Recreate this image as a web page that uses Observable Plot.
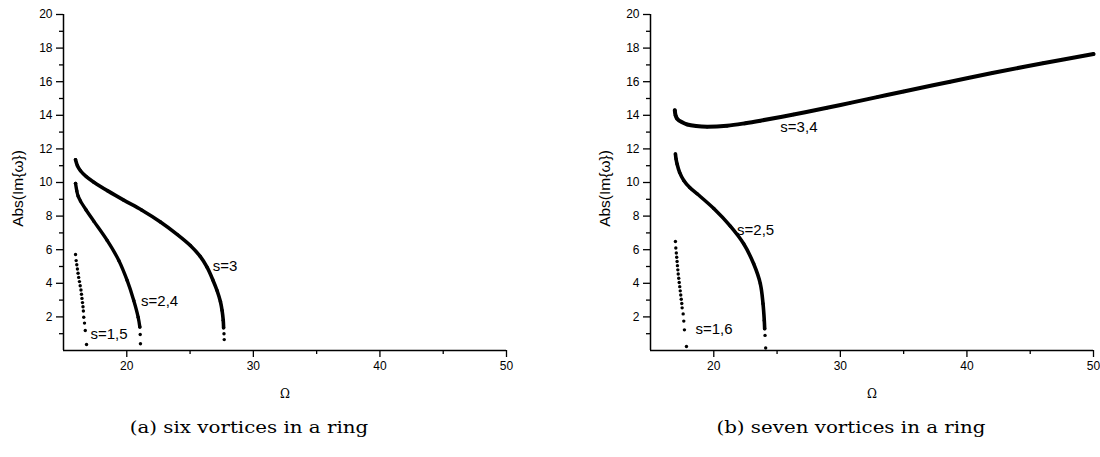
<!DOCTYPE html>
<html><head><meta charset="utf-8">
<script src="https://cdn.jsdelivr.net/npm/d3@7"></script>
<script src="https://cdn.jsdelivr.net/npm/@observablehq/plot@0.6"></script>
<style>
body{margin:0;background:#fff;}
#wrap{position:relative;width:1100px;height:457px;overflow:hidden;}
.panel{position:absolute;top:0;}
.cap{position:absolute;top:418px;width:400px;font-family:"DejaVu Serif","Liberation Serif",serif;font-size:16.5px;text-align:center;color:#000;transform:scaleX(1.2);transform-origin:center;}
</style></head>
<body>
<div id="wrap">
  <div class="panel" id="pa" style="left:0"></div>
  <div class="panel" id="pb" style="left:550px"></div>
  <div class="cap" style="left:49px">(a) six vortices in a ring</div>
  <div class="cap" style="left:651px">(b) seven vortices in a ring</div>
</div>
<script>
// ---- tick values ----
const yMajor = [2,4,6,8,10,12,14,16,18,20];
const yMinor = [1,3,5,7,9,11,13,15,17,19];
const xMajor = [20,30,40,50];
const xMinor = [25,35,45];

// ---- panel (a): six vortices ----
const a15_omega = [15.95,16.0,16.05,16.1,16.15,16.2,16.26,16.32,16.38,16.42,16.46,16.5,16.54,16.57,16.6,16.66,16.72,16.82];
const a15_im    = [5.71,5.35,5.1,4.85,4.6,4.35,4.1,3.85,3.6,3.35,3.1,2.85,2.6,2.35,1.98,1.63,1.19,0.36];
const a24_omega = [15.95,16.05,16.15,16.34,16.8,17.39,18.45,19.37,20.03,20.55,20.9,21.03,21.06,21.08];
const a24_im    = [9.95,9.5,9.2,8.9,8.35,7.7,6.55,5.36,4.17,2.98,1.98,1.4,0.95,0.4];
const a3_omega  = [15.95,16.1,16.34,16.8,17.4,18.5,19.76,21.2,22.66,24.0,25.02,25.8,26.34,26.8,27.13,27.4,27.53,27.62,27.65,27.68,27.7];
const a3_im     = [11.35,11.0,10.7,10.35,10.02,9.5,8.95,8.35,7.65,6.9,6.25,5.6,4.96,4.2,3.57,2.9,2.38,1.8,1.35,1.0,0.65];

// ---- panel (b): seven vortices ----
const b16_omega = [16.97,17.0,17.04,17.07,17.1,17.13,17.16,17.19,17.23,17.27,17.31,17.35,17.39,17.43,17.47,17.5,17.58,17.63,17.68,17.84];
const b16_im    = [6.49,6.1,5.8,5.55,5.3,5.05,4.8,4.55,4.3,4.05,3.8,3.55,3.3,3.05,2.8,2.54,2.18,1.75,1.23,0.24];
const b25_omega = [16.97,17.02,17.1,17.3,17.63,18.1,18.68,20.0,21.31,22.36,23.15,23.68,23.89,23.99,24.02,24.05,24.1];
const b25_im    = [11.7,11.4,11.1,10.6,10.12,9.7,9.33,8.45,7.4,6.35,5.16,3.97,2.78,1.79,1.3,0.9,0.15];
const b34_omega = [16.92,16.98,17.1,17.5,17.9,18.6,19.47,21.05,22.5,23.68,26.31,28.95,30.79,32.9,35,38.68,42,46,50];
const b34_im    = [14.3,14.0,13.8,13.58,13.45,13.36,13.32,13.38,13.53,13.68,14.05,14.45,14.74,15.08,15.42,16.0,16.52,17.1,17.65];

// ---- labels ----
const labelsA = [{x:26.8,y:5.0,t:"s=3"},{x:21.13,y:2.93,t:"s=2,4"},{x:17.13,y:0.99,t:"s=1,5"}];
const labelsB = [{x:25.26,y:13.29,t:"s=3,4"},{x:21.84,y:7.14,t:"s=2,5"},{x:18.55,y:1.25,t:"s=1,6"}];

const toRows = (xs, ys) => xs.map((x, i) => ({x, y: ys[i]}));

function panel(series, labels, mLeft, mRight) {
  const marks = [];
  for (const s of series) {
    const rows = toRows(s.x, s.y);
    if (s.dense) {
      marks.push(Plot.line(rows, {x:"x", y:"y", filter: d => d.y >= 1.3, curve:"catmull-rom", stroke:"#000", strokeWidth: s.w || 3.6, strokeLinecap:"round"}));
    }
    marks.push(Plot.dot(rows, {x:"x", y:"y", r:1.7, fill:"#000", stroke:"none"}));
  }
  marks.push(
    Plot.axisY(yMinor, {tickSize:4, text:null, label:null, stroke:"#000", strokeWidth:1.3}),
    Plot.axisY(yMajor, {tickSize:7, tickPadding:4, label:null, stroke:"#000", strokeWidth:1.3, fontSize:12, fill:"#000"}),
    Plot.axisX(xMinor, {tickSize:4, text:null, label:null, stroke:"#000", strokeWidth:1.3}),
    Plot.axisX(xMajor, {tickSize:7, tickPadding:4, label:null, stroke:"#000", strokeWidth:1.3, fontSize:12, fill:"#000"}),
    Plot.ruleX([15], {y1:0, y2:20, stroke:"#000", strokeWidth:1.5}),
    Plot.ruleY([0], {x1:15, x2:50, stroke:"#000", strokeWidth:1.5}),
    Plot.text(labels, {x:"x", y:"y", text:"t", textAnchor:"start", fontSize:15, fill:"#000"}),
    Plot.text(["Abs(Im{ω})"], {frameAnchor:"left", textAnchor:"middle", dx:-45, dy:6, rotate:-90, fontSize:15.5, fill:"#000"}),
    Plot.text(["Ω"], {frameAnchor:"bottom", textAnchor:"middle", dy:47, fontSize:12, fill:"#000", fontFamily:"DejaVu Serif"})
  );
  return Plot.plot({
    width: 550, height: 405,
    marginLeft: mLeft, marginRight: mRight, marginTop: 14, marginBottom: 55,
    x: {domain:[15,50]}, y: {domain:[0,20]},
    style: {fontFamily:"'Liberation Sans', Arial, sans-serif", color:"#000", background:"#fff", overflow:"visible"},
    marks
  });
}

document.getElementById("pa").appendChild(panel([
  {x:a15_omega, y:a15_im, dense:false},
  {x:a24_omega, y:a24_im, dense:true, w:3.4},
  {x:a3_omega, y:a3_im, dense:true, w:3.6}
], labelsA, 63, 44));

document.getElementById("pb").appendChild(panel([
  {x:b16_omega, y:b16_im, dense:false},
  {x:b25_omega, y:b25_im, dense:true, w:3.6},
  {x:b34_omega, y:b34_im, dense:true, w:4}
], labelsB, 100, 7));
</script>
</body></html>
